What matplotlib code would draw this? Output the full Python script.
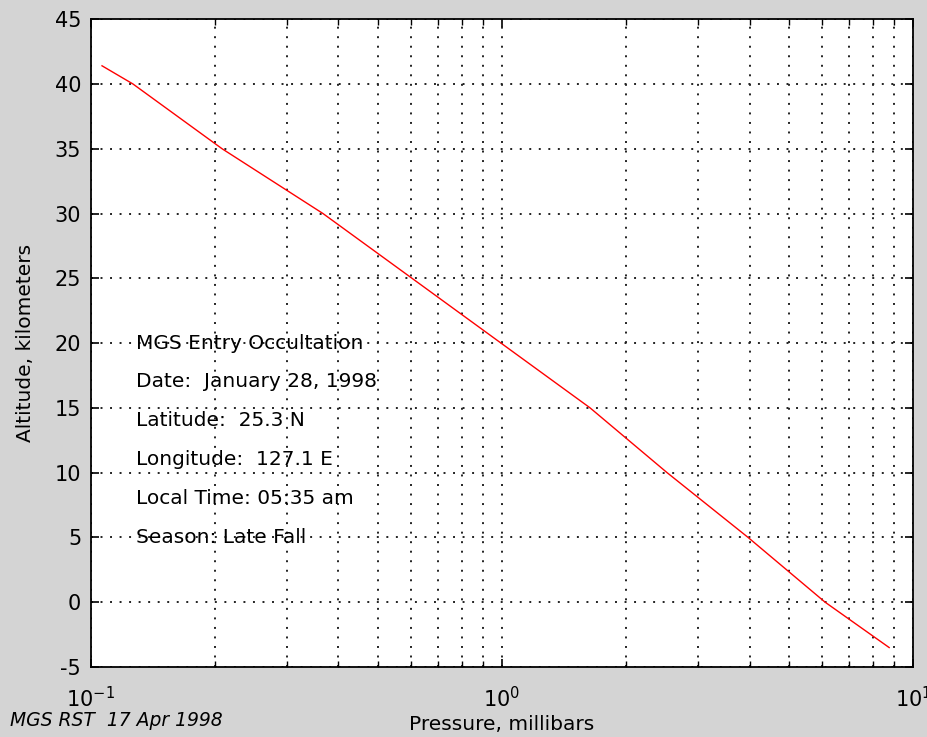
import matplotlib
matplotlib.use('Agg')
import matplotlib.pyplot as plt
from matplotlib.ticker import LogLocator, NullFormatter

# pressure (mbar) and altitude (km)
pressure = [0.1064, 0.1265, 0.2084, 0.3667, 0.6039, 0.994, 1.637, 2.52, 3.967, 6.108, 8.743]
altitude = [41.4, 40.0, 35.0, 30.0, 25.0, 20.0, 15.0, 10.0, 5.0, 0.0, -3.5]

info_lines = ['MGS Entry Occultation',
              'Date:  January 28, 1998',
              'Latitude:  25.3 N',
              'Longitude:  127.1 E',
              'Local Time: 05:35 am',
              'Season: Late Fall']
info_y = [20, 17, 14, 11, 8, 5]

y_ticks = [-5, 0, 5, 10, 15, 20, 25, 30, 35, 40, 45]

plt.rcParams['font.family'] = ['DejaVu Sans']
plt.rcParams['axes.unicode_minus'] = False

fig = plt.figure(figsize=(9.28, 7.37), dpi=100, facecolor='#d4d4d4')
ax = fig.add_axes([0.098, 0.095, 0.886, 0.879])
ax.set_facecolor('white')

ax.semilogx(pressure, altitude, color='red', linewidth=1.0)

ax.set_xlim(0.1, 10)
ax.set_ylim(-5, 45)
ax.set_yticks(y_ticks)
ax.xaxis.set_minor_locator(LogLocator(base=10, subs=range(2, 10)))
ax.xaxis.set_minor_formatter(NullFormatter())

# dotted grid like the old matlab plot
dots = (0, (1, 3.9))
ax.grid(True, which='major', color='#222222', linestyle=dots, linewidth=1.4)
ax.grid(True, which='minor', axis='x', color='#222222', linestyle=dots, linewidth=1.4)

ax.tick_params(which='both', direction='in', top=True, right=True, labelsize=15, color='black')
ax.tick_params(which='major', length=6, width=1.2)
ax.tick_params(which='minor', length=4, width=1.0)
ax.tick_params(axis='x', which='major', pad=14)
ax.tick_params(axis='y', pad=7)
for s in ax.spines.values():
    s.set_linewidth(1.3)

ax.set_xlabel('Pressure, millibars', fontsize=14.5)
ax.set_ylabel('Altitude, kilometers', fontsize=14.5)
ax.xaxis.set_label_coords(0.5, -0.074)
ax.yaxis.set_label_coords(-0.068, 0.5)

for txt, yy in zip(info_lines, info_y):
    ax.text(0.129, yy, txt, fontsize=14.5, va='center', ha='left')

fig.text(0.011, 0.022, 'MGS RST  17 Apr 1998', fontsize=13.5, style='italic', va='center')

plt.savefig('out.png', dpi=100, facecolor=fig.get_facecolor())
